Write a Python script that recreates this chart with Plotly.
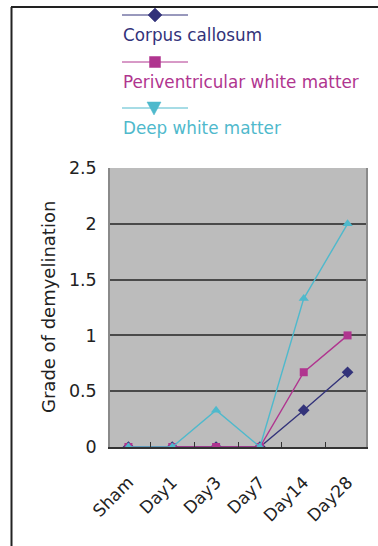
import plotly.graph_objects as go

categories = ["Sham", "Day1", "Day3", "Day7", "Day14", "Day28"]
corpus_callosum = [0, 0, 0, 0, 0.33, 0.67]
periventricular = [0, 0, 0, 0, 0.67, 1.0]
deep_white = [0, 0, 0.33, 0, 1.33, 2.0]
series_names = ["Corpus callosum", "Periventricular white matter", "Deep white matter"]
y_ticks = [0, 0.5, 1, 1.5, 2, 2.5]
y_tick_text = ["0", "0.5", "1", "1.5", "2", "2.5"]

W, H = 378, 546
colors = ["#33337A", "#B0358F", "#4FB9CC"]
symbols = ["diamond", "square", "triangle-up"]
sizes = [9, 8, 9]
FONT = "DejaVu Sans"


def px(x):
    return x / W


def py(y):
    return 1 - y / H


fig = go.Figure()
for name, vals, c, s, sz in zip(series_names, [corpus_callosum, periventricular, deep_white], colors, symbols, sizes):
    fig.add_trace(go.Scatter(x=categories, y=vals, mode="lines+markers", name=name,
                             line=dict(color=c, width=1.4),
                             marker=dict(symbol=s, size=sz, color=c),
                             showlegend=False))

# legend keys drawn as shapes in paper (pixel-derived) coordinates
leg_y = [15, 62, 108]
for i, name in enumerate(series_names):
    yy = leg_y[i]
    fig.add_shape(type="line", xref="paper", yref="paper", x0=px(122), x1=px(188),
                  y0=py(yy), y1=py(yy), line=dict(color=colors[i], width=1))
    if i == 0:
        path = "M {} {} L {} {} L {} {} L {} {} Z".format(px(155), py(yy - 7), px(162), py(yy),
                                                        px(155), py(yy + 7), px(148), py(yy))
    elif i == 1:
        path = "M {} {} L {} {} L {} {} L {} {} Z".format(px(149.5), py(yy - 5.5), px(160.5), py(yy - 5.5),
                                                        px(160.5), py(yy + 5.5), px(149.5), py(yy + 5.5))
    else:
        path = "M {} {} L {} {} L {} {} Z".format(px(147), py(yy - 6), px(161), py(yy - 6),
                                                 px(154), py(yy + 7))
    fig.add_shape(type="path", xref="paper", yref="paper", path=path,
                  fillcolor=colors[i], line=dict(color=colors[i], width=0.5))
    fig.add_annotation(x=px(121), y=py(yy + 20), xref="paper", yref="paper", text=name,
                       showarrow=False, xanchor="left", yanchor="middle",
                       font=dict(family=FONT, size=16.8, color=colors[i]))

fig.add_annotation(x=px(48), y=py(307), xref="paper", yref="paper", text="Grade of demyelination",
                   showarrow=False, textangle=-90, xanchor="center", yanchor="middle",
                   font=dict(family=FONT, size=18, color="#222222"))

# outer frame (left and top edges)
fig.add_shape(type="line", x0=px(11.5), x1=px(11.5), y0=py(7), y1=0, xref="paper", yref="paper",
              line=dict(color="#222222", width=2))
fig.add_shape(type="line", x0=px(11), x1=1, y0=py(7), y1=py(7), xref="paper", yref="paper",
              line=dict(color="#222222", width=2))

x0, x1, ytop, ybot = 110, 366, 168, 447
fig.update_layout(
    width=W, height=H,
    margin=dict(l=0, r=0, t=0, b=0, autoexpand=False),
    paper_bgcolor="white",
    plot_bgcolor="#BCBCBC",
    xaxis=dict(domain=[x0 / W, x1 / W], type="category", tickson="boundaries",
               ticks="inside", ticklen=5, tickcolor="#333333", tickangle=-45,
               showline=True, linecolor="#333333", linewidth=1.5, mirror=False,
               showgrid=False, automargin=False, ticklabelstandoff=17,
               tickfont=dict(family=FONT, size=17, color="#222222")),
    yaxis=dict(domain=[(H - ybot) / H, (H - ytop) / H], range=[0, 2.5],
               tickvals=y_ticks, ticktext=y_tick_text, ticks="",
               showline=True, linecolor="#8A8A8A", linewidth=1.5, mirror=True,
               showgrid=True, gridcolor="#4A4A4A", gridwidth=1.5, zeroline=False,
               ticklabelstandoff=8, automargin=False,
               tickfont=dict(family=FONT, size=17.5, color="#222222")),
)
fig.write_html("out.html", config={"displayModeBar": False},
               post_script="document.body.style.margin='0';document.body.style.overflow='hidden';")
